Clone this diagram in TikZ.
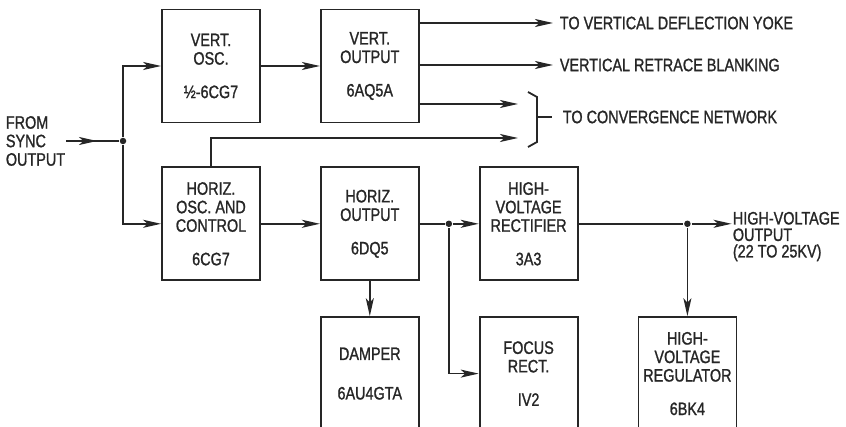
\documentclass[tikz,border=0pt]{standalone}
\usepackage{fontspec}
\setmainfont{Liberation Sans}[FakeStretch=0.8, FakeBold=1.2]
\usepackage{tikz}
\usetikzlibrary{arrows.meta, positioning}

\begin{document}
\begin{tikzpicture}[
    x=1pt, y=1pt,
    >={Stealth[length=18pt, width=8pt, inset=4.5pt]},
    line width=1.8pt,
    draw=black!85,
    node distance=59pt,
    every node/.style={
        font=\fontsize{18}{18.5}\selectfont, text=black!85
    },
    tube/.style={
        draw, rectangle, minimum width=98pt, minimum height=113pt,
        align=center, inner sep=0pt
    },
    outtext/.style={
        inner sep=0pt, align=left
    },
    dot/.style={
        circle, fill=black!85, inner sep=0pt, minimum size=6.5pt
    }
]

\useasboundingbox (0,0) rectangle (846,-427);

\node [tube] (vosc) at (211,-66) {VERT.\\OSC.\\[15pt]½-6CG7};

\node [tube, right=of vosc] (vout) {VERT.\\OUTPUT\\[15pt]6AQ5A};

\node [tube, below=43pt of vosc] (hosc) {HORIZ.\\OSC. AND\\CONTROL\\[15pt]6CG7};

\node [tube, right=of hosc] (hout) {HORIZ.\\OUTPUT\\[15pt]6DQ5};

\node [tube, right=of hout] (hvrect) {HIGH-\\VOLTAGE\\RECTIFIER\\[15pt]3A3};

\node [tube, below=35pt of hout] (damper) {DAMPER\\[21pt]6AU4GTA};

\node [tube, right=of damper] (focus) {FOCUS\\RECT.\\[15pt]IV2};

\node [tube, right=of focus] (hvreg) {HIGH-\\VOLTAGE\\REGULATOR\\[15pt]6BK4};

\node [outtext, anchor=east] (sync) at (66,-141) {FROM\\SYNC\\OUTPUT};

\node [dot] (jsync) at (123,-141) {};

\node [dot, right=25pt of hout.east] (jhout) {};

\node [dot] (jhv) at (hvreg.north |- hvrect.east) {};

\coordinate (yokeend)  at (553,-23);
\coordinate (blankend) at (553,-65);
\coordinate (conva)    at (518,-104);
\coordinate (convb)    at (518,-138);
\coordinate (brk)      at (537,-117);
\coordinate [right=40pt of jhv] (hvend);

\node [outtext, right=6pt of yokeend, anchor=west]  (yoke)  {TO VERTICAL DEFLECTION YOKE};
\node [outtext, right=6pt of blankend, anchor=west] (blank) {VERTICAL RETRACE BLANKING};
\node [outtext, right=25pt of brk, anchor=west]     (conv)  {TO CONVERGENCE NETWORK};
\node [outtext, anchor=north west, font=\fontsize{18}{16.5}\selectfont]
      (hvout) at (732,-211) {HIGH-VOLTAGE\\OUTPUT\\(22 TO 25KV)};

\draw[->] (sync.east) -- ++(31pt,0);
\draw[-]  (sync.east) -- (jsync);

\draw[->] (jsync) |- (vosc.west);
\draw[->] (jsync) |- (hosc.west);

\draw[->] (vosc) -- (vout);

\draw[->] (vout.east |- yokeend) -- (yokeend);
\draw[->] (vout.east |- blankend) -- (blankend);
\draw[->] (vout.east |- conva) -- (conva);

\draw[->] (hosc.north) |- (convb);

% bracket
\draw (528,-92) -- (537,-97) -- (537,-142) -- (528,-147);
\draw (brk) -- ++(15pt,0);

\draw[->] (hosc) -- (hout);

\draw[-]  (hout) -- (jhout);
\draw[->] (jhout) -- (hvrect);
\draw[->] (jhout) |- (focus.west);

\draw[->] (hout) -- (damper);

\draw[-]  (hvrect.east) -- (jhv);
\draw[->] (jhv) -- (hvend);
\draw[->] (jhv) -- (hvreg.north);

\end{tikzpicture}
\end{document}
